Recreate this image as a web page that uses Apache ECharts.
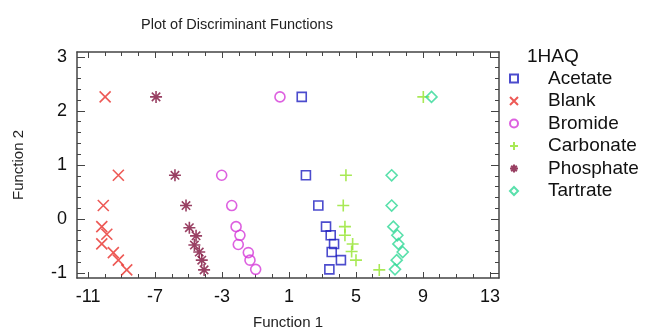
<!DOCTYPE html>
<html>
<head>
<meta charset="utf-8" />
<title>Plot of Discriminant Functions</title>
<script src="https://cdn.jsdelivr.net/npm/echarts@6/dist/echarts.min.js"></script>
<style>
  * { margin: 0; padding: 0; }
  #chart { width: 646px; height: 335px; background: #fff; }
</style>
</head>
<body>
<div id="chart"></div>
<script>
var names = ["Acetate", "Blank", "Bromide", "Carbonate", "Phosphate", "Tartrate"];
var colors = ["#1f1fc0", "#e8302a", "#d43ad8", "#92e42a", "#80103c", "#30d896"];

var acetateX = [1.76, 2.01, 2.75, 3.21, 3.49, 3.69, 3.55, 4.10, 3.41];
var acetateY = [2.26, 0.81, 0.25, -0.14, -0.30, -0.46, -0.61, -0.76, -0.93];
var blankX = [-9.98, -9.19, -10.09, -10.18, -9.88, -10.18, -9.49, -9.19, -8.69];
var blankY = [2.26, 0.81, 0.25, -0.14, -0.28, -0.46, -0.62, -0.76, -0.94];
var bromideX = [0.46, -3.02, -2.42, -2.16, -1.93, -2.03, -1.43, -1.33, -0.99];
var bromideY = [2.26, 0.81, 0.25, -0.14, -0.30, -0.47, -0.62, -0.76, -0.93];
var carbonateX = [9.02, 4.40, 4.24, 4.34, 4.34, 4.80, 4.74, 5.00, 6.39];
var carbonateY = [2.26, 0.81, 0.25, -0.14, -0.30, -0.46, -0.60, -0.76, -0.94];
var phosphateX = [-6.94, -5.81, -5.15, -4.95, -4.55, -4.65, -4.36, -4.21, -4.07];
var phosphateY = [2.26, 0.81, 0.25, -0.16, -0.31, -0.48, -0.61, -0.76, -0.94];
var tartrateX = [9.51, 7.13, 7.13, 7.23, 7.47, 7.53, 7.79, 7.43, 7.33];
var tartrateY = [2.26, 0.81, 0.25, -0.14, -0.30, -0.46, -0.61, -0.76, -0.93];

var xTickLabels = [-11, -7, -3, 1, 5, 9, 13];
var yTickLabels = [-1, 0, 1, 2, 3];

var seriesX = [acetateX, blankX, bromideX, carbonateX, phosphateX, tartrateX];
var seriesY = [acetateY, blankY, bromideY, carbonateY, phosphateY, tartrateY];

var symbols = [
  "rect",
  "path://M0,0L10,10M10,0L0,10",
  "circle",
  "path://M5,0L5,10M0,5L10,5",
  "path://M5,0L5,10M0,5L10,5M1.5,1.5L8.5,8.5M8.5,1.5L1.5,8.5",
  "diamond"
];
var sizes = [9, 11, 10, 12, 12, 11];

var XMIN = -11.66, XMAX = 13.54, YMIN = -1.09, YMAX = 3.09;
var FONT = "Arial, 'Liberation Sans', sans-serif";

var xMinor = [];
for (var i = -11; i <= 13; i++) xMinor.push(i);
var yMinor = [];
for (var j = -10; j <= 30; j += 2) yMinor.push(j / 10);

function xAx(pos, ticks, len, main) {
  return {
    type: "value", min: XMIN, max: XMAX, position: pos,
    axisLine: { show: main, onZero: false, lineStyle: { color: "#444", width: 1.5 } },
    axisTick: { show: true, inside: true, length: len, customValues: ticks,
      lineStyle: { color: "#444", width: 1 } },
    axisLabel: { show: main && pos === "bottom", customValues: xTickLabels,
      fontSize: 18, color: "#111", margin: 10, fontFamily: FONT },
    splitLine: { show: false }
  };
}
function yAx(pos, ticks, len, main) {
  return {
    type: "value", min: YMIN, max: YMAX, position: pos,
    axisLine: { show: main, onZero: false, lineStyle: { color: "#444", width: 1.5 } },
    axisTick: { show: true, inside: true, length: len, customValues: ticks,
      lineStyle: { color: "#444", width: 1 } },
    axisLabel: { show: main && pos === "left", customValues: yTickLabels,
      fontSize: 18, color: "#111", margin: 10, fontFamily: FONT },
    splitLine: { show: false }
  };
}

var xAxes = [
  xAx("bottom", xTickLabels, 6, true),
  xAx("top", xTickLabels, 6, true),
  xAx("top", xMinor, 4, false),    // flips to bottom
  xAx("bottom", xMinor, 4, false)  // flips to top
];
xAxes[0].name = "Function 1";
xAxes[0].nameLocation = "middle";
xAxes[0].nameGap = 37;
xAxes[0].nameTextStyle = { fontSize: 15, color: "#222", fontFamily: FONT };

var yAxes = [
  yAx("left", yTickLabels, 8, true),
  yAx("right", yTickLabels, 8, true),
  yAx("right", yMinor, 4, false),
  yAx("left", yMinor, 4, false)
];
yAxes[0].name = "Function 2";
yAxes[0].nameLocation = "middle";
yAxes[0].nameGap = 51;
yAxes[0].nameTextStyle = { fontSize: 15, color: "#222", fontFamily: FONT };

var series = names.map(function (n, k) {
  return {
    name: n,
    type: "scatter",
    symbol: symbols[k],
    symbolSize: sizes[k],
    xAxisIndex: 0,
    yAxisIndex: 0,
    itemStyle: { color: "transparent", borderColor: colors[k], borderWidth: 1.6 },
    data: seriesX[k].map(function (x, m) { return [x, seriesY[k][m]]; })
  };
});

var chart = echarts.init(document.getElementById("chart"), null, { renderer: "canvas" });
chart.setOption({
  animation: false,
  backgroundColor: "#fff",
  textStyle: { fontFamily: FONT },
  title: {
    text: "Plot of Discriminant Functions",
    left: 232, top: 12, textAlign: "center",
    textStyle: { fontSize: 14.5, fontWeight: "normal", color: "#222", fontFamily: FONT }
  },
  graphic: [{
    type: "text", left: 527, top: 47,
    style: { text: "1HAQ", fontSize: 19, fill: "#111", fontFamily: FONT }
  }],
  legend: {
    orient: "vertical", left: 504, top: 64,
    itemWidth: 8, itemHeight: 8, itemGap: 3.5,
    textStyle: { fontSize: 19, color: "#111", lineHeight: 19, padding: [0, 0, 0, 25], fontFamily: FONT },
    data: names
  },
  grid: { left: 77, right: 147, top: 52, bottom: 52, containLabel: false },
  xAxis: xAxes,
  yAxis: yAxes,
  series: series
});
window.addEventListener("resize", chart.resize);
</script>
</body>
</html>
